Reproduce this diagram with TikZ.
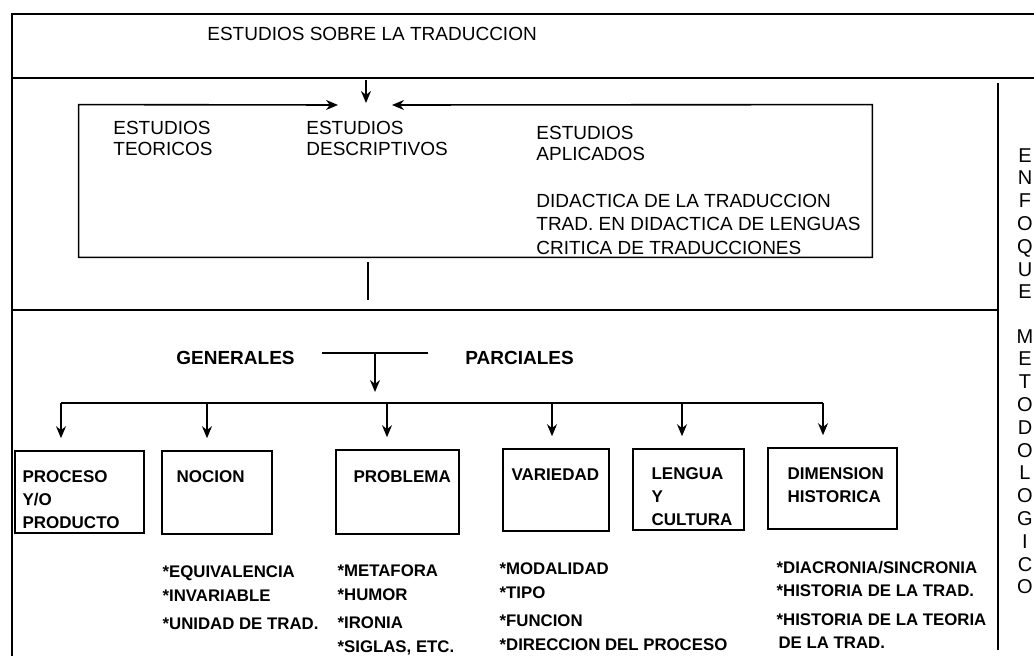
\documentclass[tikz,border=0pt]{standalone}
\usepackage{fontspec}
\setmainfont{Liberation Sans}
\usetikzlibrary{arrows.meta, positioning}

\tikzset{
  rule/.style={line width=0.8pt},
  arr/.style={line width=0.8pt, -{Stealth[length=6pt, width=5pt]}},
  catbox/.style={draw, line width=0.8pt, rectangle, inner sep=0pt},
  toptext/.style={inner sep=0pt, anchor=north west, align=left, font=\fontsize{9.5}{10.5}\selectfont},
  midtext/.style={inner sep=0pt, anchor=north west, font=\fontsize{9.5}{11}\selectfont\bfseries},
  boxtext/.style={inner sep=0pt, align=left, font=\fontsize{8.5}{11.6}\selectfont\bfseries},
  itemtext/.style={inner sep=0pt, align=left, font=\fontsize{8.4}{11.75}\selectfont\bfseries},
  vtext/.style={inner sep=0pt, anchor=north, align=center, font=\fontsize{10}{11.4}\selectfont},
}

\begin{document}
\begin{tikzpicture}[x=0.5pt, y=-0.5pt]
  \useasboundingbox (0,0) rectangle (1034,658);

  % frame
  \draw[rule] (1034,14) -- (12,14) -- (12,656);
  \draw[rule] (12,78) -- (1034,78);
  \draw[rule] (12,310) -- (998,310);
  \draw[rule] (998,83) -- (998,650);

  \node[toptext] (T) at (207,26.5) {ESTUDIOS SOBRE LA TRADUCCION};

  % estudios
  \node[minimum width=396.5pt, minimum height=76pt, inner sep=0pt] (S) at (475.5,181) {};
  \coordinate (M) at (366,80);
  \coordinate (N) at (366,103);
  \coordinate (SL) at (338,105);
  \coordinate (SR) at (392,105);
  \path[arr] (M) edge (N);
  \draw[rule, {Stealth[length=6pt, width=5pt]}-{Stealth[length=6pt, width=5pt]}]
    (SL) -- (S.north west) -- (S.south west) -- (S.south east) -- (S.north east) -- (SR);

  \node[toptext] (S1) at (113,120.5) {ESTUDIOS\\TEORICOS};
  \node[toptext] (S2) at (306,120.5) {ESTUDIOS\\DESCRIPTIVOS};
  \node[toptext] (S3) at (536,125.5) {ESTUDIOS\\APLICADOS};
  \node[toptext, font=\fontsize{9.5}{11.75}\selectfont] (S4) at (536,193.5)
    {DIDACTICA DE LA TRADUCCION\\TRAD. EN DIDACTICA DE LENGUAS\\CRITICA DE TRADUCCIONES};

  \coordinate (P) at (368,262);
  \coordinate (Q) at (368,300);
  \draw[rule] (P) -- (Q);

  % enfoque metodologico
  \node[vtext] (V1) at (1025,148) {E\\N\\F\\O\\Q\\U\\E};
  \node[vtext] (V2) at (1025,329) {M\\E\\T\\O\\D\\O\\L\\O\\G\\I\\C\\O};

  % generales / parciales
  \node[midtext] (G) at (176,351) {GENERALES};
  \node[midtext] (H) at (465,351) {PARCIALES};
  \coordinate (J1) at (322,353);
  \coordinate (J2) at (428,353);
  \coordinate (J) at (375,353);
  \coordinate (K) at (375,392);
  \draw[rule] (J1) -- (J2);
  \path[arr] (J) edge (K);

  \coordinate (L1) at (61,403);
  \coordinate (L2) at (207,403);
  \coordinate (L3) at (387,403);
  \coordinate (L4) at (552,403);
  \coordinate (L5) at (682,403);
  \coordinate (L6) at (823,403);
  \draw[rule] (L1) -- (L6);

  % categorias
  \node[catbox, minimum width=64.5pt, minimum height=41pt] (A) at (79.5,492) {};
  \node[catbox, minimum width=55pt, minimum height=41.5pt] (B) at (217,492.5) {};
  \node[catbox, minimum width=61.5pt, minimum height=42pt] (C) at (397.5,492) {};
  \node[catbox, minimum width=53pt, minimum height=41pt] (D) at (556,490) {};
  \node[catbox, minimum width=55.5pt, minimum height=40.5pt] (E) at (688.5,489.5) {};
  \node[catbox, minimum width=64.5pt, minimum height=40.5pt] (F) at (832.5,488.5) {};

  \path[arr, shorten >=6pt] (L1) edge (L1 |- A.north);
  \path[arr, shorten >=6pt] (L2) edge (L2 |- B.north);
  \path[arr, shorten >=6pt] (L3) edge (L3 |- C.north);
  \path[arr, shorten >=6pt] (L4) edge (L4 |- D.north);
  \path[arr, shorten >=6pt] (L5) edge (L5 |- E.north);
  \path[arr, shorten >=6pt] (L6) edge (L6 |- F.north);

  \node[boxtext, below right=10pt and 4pt of A.north west] (A1) {PROCESO\\Y/O\\PRODUCTO};
  \node[boxtext, below right=10pt and 7.5pt of B.north west] (B1) {NOCION};
  \node[boxtext, below right=10.5pt and 9pt of C.north west] (C1) {PROBLEMA};
  \node[boxtext, below right=10pt and 4.5pt of D.north west] (D1) {VARIEDAD};
  \node[boxtext, below right=9.5pt and 9.5pt of E.north west] (E1) {LENGUA\\Y\\CULTURA};
  \node[boxtext, below right=10pt and 10pt of F.north west] (F1) {DIMENSION\\HISTORICA};

  \node[itemtext, below right=15.5pt and 0.5pt of B.south west] (B2)
    {*EQUIVALENCIA\\*INVARIABLE\\[2.5pt]*UNIDAD DE TRAD.};
  \node[itemtext, below right=15pt and 1pt of C.south west] (C2)
    {*METAFORA\\*HUMOR\\[2.5pt]*IRONIA\\*SIGLAS, ETC.};
  \node[itemtext, below right=15.5pt and -1.5pt of D.south west] (D2)
    {*MODALIDAD\\*TIPO\\[2.5pt]*FUNCION\\*DIRECCION DEL PROCESO};
  \node[itemtext, below right=15.5pt and 4.5pt of F.south west] (F2)
    {*DIACRONIA/SINCRONIA\\*HISTORIA DE LA TRAD.\\[2.5pt]*HISTORIA DE LA TEORIA\\\hspace*{1pt}DE LA TRAD.};
\end{tikzpicture}
\end{document}
